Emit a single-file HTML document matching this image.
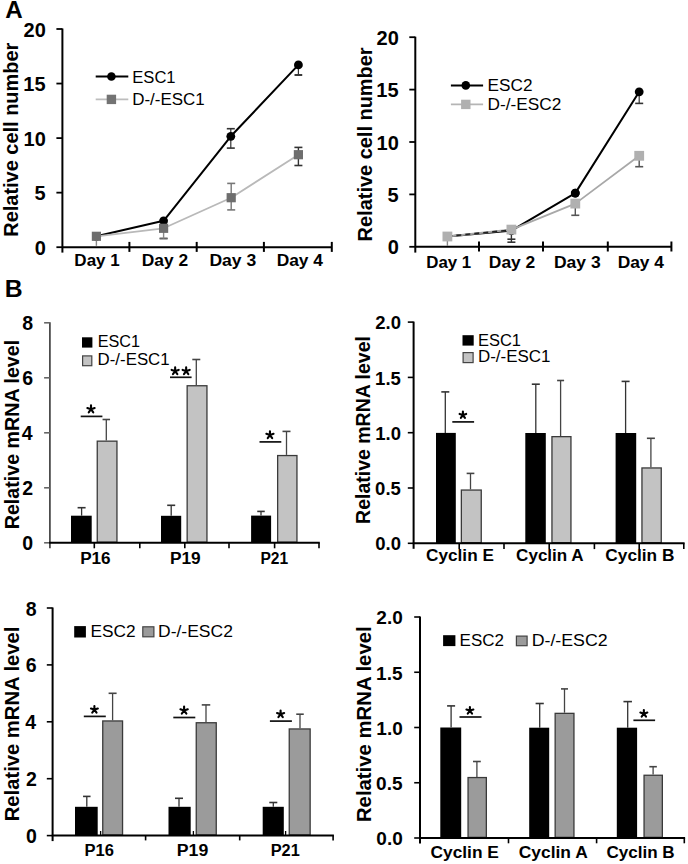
<!DOCTYPE html>
<html><head><meta charset="utf-8"><style>
html,body{margin:0;padding:0;background:#fff;}
body{width:688px;height:864px;overflow:hidden;}
svg{display:block;font-family:"Liberation Sans",sans-serif;}
</style></head><body>
<svg width="688" height="864" viewBox="0 0 688 864">
<rect width="688" height="864" fill="#fff"/>
<text transform="translate(5.20,18.00) scale(1.0075,1)" font-size="24" font-weight="bold" fill="#000">A</text>
<line x1="62.40" y1="28.50" x2="62.40" y2="252.60" stroke="#000" stroke-width="2" stroke-linecap="butt"/>
<line x1="56.40" y1="247.20" x2="62.40" y2="247.20" stroke="#000" stroke-width="1.8" stroke-linecap="butt"/>
<text transform="translate(34.70,254.80) scale(1.0000,1)" font-size="20" font-weight="bold" fill="#000">0</text>
<line x1="56.40" y1="192.65" x2="62.40" y2="192.65" stroke="#000" stroke-width="1.8" stroke-linecap="butt"/>
<text transform="translate(34.45,200.25) scale(1.0000,1)" font-size="20" font-weight="bold" fill="#000">5</text>
<line x1="56.40" y1="138.10" x2="62.40" y2="138.10" stroke="#000" stroke-width="1.8" stroke-linecap="butt"/>
<text transform="translate(23.60,145.70) scale(1.0000,1)" font-size="20" font-weight="bold" fill="#000">10</text>
<line x1="56.40" y1="83.55" x2="62.40" y2="83.55" stroke="#000" stroke-width="1.8" stroke-linecap="butt"/>
<text transform="translate(23.35,91.15) scale(1.0000,1)" font-size="20" font-weight="bold" fill="#000">15</text>
<line x1="56.40" y1="29.00" x2="62.40" y2="29.00" stroke="#000" stroke-width="1.8" stroke-linecap="butt"/>
<text transform="translate(23.60,36.60) scale(1.0000,1)" font-size="20" font-weight="bold" fill="#000">20</text>
<line x1="62.40" y1="247.20" x2="331.80" y2="247.20" stroke="#000" stroke-width="2" stroke-linecap="butt"/>
<line x1="129.40" y1="241.90" x2="129.40" y2="251.90" stroke="#000" stroke-width="2" stroke-linecap="butt"/>
<line x1="196.70" y1="241.90" x2="196.70" y2="251.90" stroke="#000" stroke-width="2" stroke-linecap="butt"/>
<line x1="263.90" y1="241.90" x2="263.90" y2="251.90" stroke="#000" stroke-width="2" stroke-linecap="butt"/>
<line x1="331.80" y1="241.90" x2="331.80" y2="251.90" stroke="#000" stroke-width="2" stroke-linecap="butt"/>
<text transform="translate(74.35,265.80) scale(1.0015,1)" font-size="17" font-weight="bold" fill="#000">Day 1</text>
<text transform="translate(141.73,265.80) scale(1.0225,1)" font-size="17" font-weight="bold" fill="#000">Day 2</text>
<text transform="translate(209.42,265.80) scale(1.0320,1)" font-size="17" font-weight="bold" fill="#000">Day 3</text>
<text transform="translate(276.63,265.80) scale(1.0223,1)" font-size="17" font-weight="bold" fill="#000">Day 4</text>
<text transform="translate(18.40,236.70) rotate(-90) scale(0.9979,1)" font-size="20" font-weight="bold">Relative cell number</text>
<polyline points="96.40,236.30 163.60,220.80 230.80,136.30 298.40,64.90" fill="none" stroke="#000" stroke-width="2.0" stroke-linejoin="round"/>
<line x1="230.80" y1="128.70" x2="230.80" y2="148.10" stroke="#333" stroke-width="1.2" stroke-linecap="butt"/>
<line x1="226.80" y1="128.70" x2="234.80" y2="128.70" stroke="#333" stroke-width="1.6" stroke-linecap="butt"/>
<line x1="226.80" y1="148.10" x2="234.80" y2="148.10" stroke="#333" stroke-width="1.6" stroke-linecap="butt"/>
<line x1="298.40" y1="75.00" x2="298.40" y2="75.00" stroke="#333" stroke-width="1.2" stroke-linecap="butt"/>
<line x1="294.65" y1="75.00" x2="302.15" y2="75.00" stroke="#333" stroke-width="1.6" stroke-linecap="butt"/>
<line x1="294.65" y1="75.00" x2="302.15" y2="75.00" stroke="#333" stroke-width="1.6" stroke-linecap="butt"/>
<line x1="298.40" y1="66.00" x2="298.40" y2="75.00" stroke="#333" stroke-width="1.2" stroke-linecap="butt"/>
<circle cx="96.40" cy="236.30" r="4.4" fill="#000"/>
<circle cx="163.60" cy="220.80" r="4.4" fill="#000"/>
<circle cx="230.80" cy="136.30" r="4.4" fill="#000"/>
<circle cx="298.40" cy="64.90" r="4.4" fill="#000"/>
<polyline points="96.40,236.30 163.60,228.30 231.20,197.70 298.40,154.70" fill="none" stroke="#b9b9b9" stroke-width="1.8" stroke-linejoin="round"/>
<line x1="96.40" y1="240.00" x2="96.40" y2="245.80" stroke="#888" stroke-width="1.4" stroke-linecap="butt"/>
<line x1="163.60" y1="238.50" x2="163.60" y2="238.50" stroke="#666" stroke-width="1.2" stroke-linecap="butt"/>
<line x1="159.60" y1="238.50" x2="167.60" y2="238.50" stroke="#666" stroke-width="1.6" stroke-linecap="butt"/>
<line x1="159.60" y1="238.50" x2="167.60" y2="238.50" stroke="#666" stroke-width="1.6" stroke-linecap="butt"/>
<line x1="163.60" y1="232.00" x2="163.60" y2="238.50" stroke="#888" stroke-width="1.4" stroke-linecap="butt"/>
<line x1="231.20" y1="183.40" x2="231.20" y2="209.90" stroke="#777" stroke-width="1.4" stroke-linecap="butt"/>
<line x1="227.20" y1="183.40" x2="235.20" y2="183.40" stroke="#777" stroke-width="1.6" stroke-linecap="butt"/>
<line x1="227.20" y1="209.90" x2="235.20" y2="209.90" stroke="#777" stroke-width="1.6" stroke-linecap="butt"/>
<line x1="298.40" y1="147.40" x2="298.40" y2="165.50" stroke="#333" stroke-width="1.4" stroke-linecap="butt"/>
<line x1="294.40" y1="147.40" x2="302.40" y2="147.40" stroke="#333" stroke-width="1.6" stroke-linecap="butt"/>
<line x1="294.40" y1="165.50" x2="302.40" y2="165.50" stroke="#333" stroke-width="1.6" stroke-linecap="butt"/>
<rect x="91.80" y="231.70" width="9.2" height="9.2" fill="#6e6e6e"/>
<rect x="159.00" y="223.70" width="9.2" height="9.2" fill="#6e6e6e"/>
<rect x="226.60" y="193.10" width="9.2" height="9.2" fill="#6e6e6e"/>
<rect x="293.80" y="150.10" width="9.2" height="9.2" fill="#6e6e6e"/>
<line x1="95.70" y1="76.50" x2="128.30" y2="76.50" stroke="#000" stroke-width="2" stroke-linecap="butt"/>
<circle cx="111.40" cy="76.50" r="4.3" fill="#000"/>
<text transform="translate(132.23,82.90) scale(0.9772,1)" font-size="17" font-weight="normal" fill="#000">ESC1</text>
<line x1="95.70" y1="99.40" x2="128.30" y2="99.40" stroke="#bdbdbd" stroke-width="1.8" stroke-linecap="butt"/>
<rect x="106.70" y="94.70" width="9.4" height="9.4" fill="#737373"/>
<text transform="translate(132.20,105.40) scale(0.9985,1)" font-size="17" font-weight="normal" fill="#000">D-/-ESC1</text>
<line x1="415.30" y1="36.70" x2="415.30" y2="252.60" stroke="#000" stroke-width="2" stroke-linecap="butt"/>
<line x1="409.30" y1="246.80" x2="415.30" y2="246.80" stroke="#000" stroke-width="1.8" stroke-linecap="butt"/>
<text transform="translate(387.70,254.40) scale(1.0000,1)" font-size="20" font-weight="bold" fill="#000">0</text>
<line x1="409.30" y1="194.40" x2="415.30" y2="194.40" stroke="#000" stroke-width="1.8" stroke-linecap="butt"/>
<text transform="translate(387.45,202.00) scale(1.0000,1)" font-size="20" font-weight="bold" fill="#000">5</text>
<line x1="409.30" y1="142.00" x2="415.30" y2="142.00" stroke="#000" stroke-width="1.8" stroke-linecap="butt"/>
<text transform="translate(376.60,149.60) scale(1.0000,1)" font-size="20" font-weight="bold" fill="#000">10</text>
<line x1="409.30" y1="89.60" x2="415.30" y2="89.60" stroke="#000" stroke-width="1.8" stroke-linecap="butt"/>
<text transform="translate(376.35,97.20) scale(1.0000,1)" font-size="20" font-weight="bold" fill="#000">15</text>
<line x1="409.30" y1="37.20" x2="415.30" y2="37.20" stroke="#000" stroke-width="1.8" stroke-linecap="butt"/>
<text transform="translate(376.60,44.80) scale(1.0000,1)" font-size="20" font-weight="bold" fill="#000">20</text>
<line x1="415.30" y1="246.80" x2="671.40" y2="246.80" stroke="#000" stroke-width="2" stroke-linecap="butt"/>
<line x1="479.00" y1="241.50" x2="479.00" y2="251.50" stroke="#000" stroke-width="2" stroke-linecap="butt"/>
<line x1="543.00" y1="241.50" x2="543.00" y2="251.50" stroke="#000" stroke-width="2" stroke-linecap="butt"/>
<line x1="607.80" y1="241.50" x2="607.80" y2="251.50" stroke="#000" stroke-width="2" stroke-linecap="butt"/>
<line x1="671.40" y1="241.50" x2="671.40" y2="251.50" stroke="#000" stroke-width="2" stroke-linecap="butt"/>
<text transform="translate(426.26,267.50) scale(0.9924,1)" font-size="17" font-weight="bold" fill="#000">Day 1</text>
<text transform="translate(488.82,267.50) scale(1.0248,1)" font-size="17" font-weight="bold" fill="#000">Day 2</text>
<text transform="translate(553.92,267.50) scale(1.0297,1)" font-size="17" font-weight="bold" fill="#000">Day 3</text>
<text transform="translate(617.63,267.50) scale(1.0223,1)" font-size="17" font-weight="bold" fill="#000">Day 4</text>
<text transform="translate(372.40,241.40) rotate(-90) scale(0.9979,1)" font-size="20" font-weight="bold">Relative cell number</text>
<polyline points="447.40,236.50 511.40,230.60 575.30,193.10 639.20,91.80" fill="none" stroke="#000" stroke-width="2.0" stroke-linejoin="round"/>
<line x1="639.20" y1="93.00" x2="639.20" y2="103.40" stroke="#333" stroke-width="1.2" stroke-linecap="butt"/>
<line x1="635.20" y1="103.40" x2="643.20" y2="103.40" stroke="#333" stroke-width="1.6" stroke-linecap="butt"/>
<circle cx="447.40" cy="236.50" r="4.4" fill="#000"/>
<circle cx="511.40" cy="230.60" r="4.4" fill="#000"/>
<circle cx="575.30" cy="193.10" r="4.4" fill="#000"/>
<circle cx="639.20" cy="91.80" r="4.4" fill="#000"/>
<polyline points="447.40,236.50 511.40,229.60 575.30,203.60 639.20,155.80" fill="none" stroke="#a8a8a8" stroke-width="1.8" stroke-linejoin="round"/>
<line x1="447.40" y1="240.00" x2="447.40" y2="246.00" stroke="#888" stroke-width="1.4" stroke-linecap="butt"/>
<line x1="511.40" y1="233.00" x2="511.40" y2="242.20" stroke="#333" stroke-width="1.4" stroke-linecap="butt"/>
<line x1="507.40" y1="239.20" x2="515.40" y2="239.20" stroke="#333" stroke-width="1.6" stroke-linecap="butt"/>
<line x1="507.40" y1="242.20" x2="515.40" y2="242.20" stroke="#333" stroke-width="1.6" stroke-linecap="butt"/>
<line x1="575.30" y1="207.00" x2="575.30" y2="215.30" stroke="#555" stroke-width="1.4" stroke-linecap="butt"/>
<line x1="571.30" y1="215.30" x2="579.30" y2="215.30" stroke="#555" stroke-width="1.6" stroke-linecap="butt"/>
<line x1="639.20" y1="160.00" x2="639.20" y2="166.70" stroke="#555" stroke-width="1.4" stroke-linecap="butt"/>
<line x1="635.20" y1="166.70" x2="643.20" y2="166.70" stroke="#555" stroke-width="1.6" stroke-linecap="butt"/>
<line x1="447.4" y1="236.3" x2="511.4" y2="230.0" stroke="#222" stroke-width="1.6" stroke-dasharray="5 4"/>
<rect x="442.50" y="231.60" width="9.8" height="9.8" fill="#b0b0b0"/>
<rect x="506.50" y="224.70" width="9.8" height="9.8" fill="#b0b0b0"/>
<rect x="570.40" y="198.70" width="9.8" height="9.8" fill="#b0b0b0"/>
<rect x="634.30" y="150.90" width="9.8" height="9.8" fill="#b0b0b0"/>
<circle cx="575.30" cy="193.10" r="4.4" fill="#000"/>
<line x1="450.90" y1="85.40" x2="483.10" y2="85.40" stroke="#000" stroke-width="2" stroke-linecap="butt"/>
<circle cx="465.80" cy="85.40" r="4.3" fill="#000"/>
<text transform="translate(487.58,91.40) scale(1.0115,1)" font-size="17" font-weight="normal" fill="#000">ESC2</text>
<line x1="450.90" y1="104.40" x2="483.10" y2="104.40" stroke="#b5b5b5" stroke-width="1.8" stroke-linecap="butt"/>
<rect x="461.10" y="99.70" width="9.4" height="9.4" fill="#b0b0b0"/>
<text transform="translate(487.58,110.30) scale(1.0147,1)" font-size="17" font-weight="normal" fill="#000">D-/-ESC2</text>
<text transform="translate(4.73,297.20) scale(1.0314,1)" font-size="24" font-weight="bold" fill="#000">B</text>
<line x1="49.90" y1="322.30" x2="49.90" y2="548.30" stroke="#444" stroke-width="1.7" stroke-linecap="butt"/>
<line x1="44.10" y1="542.80" x2="49.90" y2="542.80" stroke="#666" stroke-width="1.6" stroke-linecap="butt"/>
<text transform="translate(22.36,550.31) scale(1.0000,1)" font-size="19.5" font-weight="bold" fill="#000">0</text>
<line x1="44.10" y1="487.80" x2="49.90" y2="487.80" stroke="#666" stroke-width="1.6" stroke-linecap="butt"/>
<text transform="translate(22.36,495.31) scale(1.0000,1)" font-size="19.5" font-weight="bold" fill="#000">2</text>
<line x1="44.10" y1="432.80" x2="49.90" y2="432.80" stroke="#666" stroke-width="1.6" stroke-linecap="butt"/>
<text transform="translate(21.67,440.31) scale(1.0000,1)" font-size="19.5" font-weight="bold" fill="#000">4</text>
<line x1="44.10" y1="377.80" x2="49.90" y2="377.80" stroke="#666" stroke-width="1.6" stroke-linecap="butt"/>
<text transform="translate(22.26,385.31) scale(1.0000,1)" font-size="19.5" font-weight="bold" fill="#000">6</text>
<line x1="44.10" y1="322.80" x2="49.90" y2="322.80" stroke="#666" stroke-width="1.6" stroke-linecap="butt"/>
<text transform="translate(22.16,330.31) scale(1.0000,1)" font-size="19.5" font-weight="bold" fill="#000">8</text>
<rect x="71.00" y="515.70" width="20.70" height="27.10" fill="#000"/>
<line x1="81.60" y1="507.70" x2="81.60" y2="515.70" stroke="#333" stroke-width="1.3" stroke-linecap="butt"/>
<line x1="77.60" y1="507.70" x2="85.60" y2="507.70" stroke="#333" stroke-width="1.6" stroke-linecap="butt"/>
<rect x="97.25" y="441.15" width="19.70" height="101.00" fill="#c3c3c3" stroke="#3a3a3a" stroke-width="1.3"/>
<line x1="106.30" y1="419.50" x2="106.30" y2="440.50" stroke="#444" stroke-width="1.3" stroke-linecap="butt"/>
<line x1="102.55" y1="419.50" x2="110.05" y2="419.50" stroke="#444" stroke-width="1.6" stroke-linecap="butt"/>
<rect x="161.00" y="515.80" width="20.20" height="27.00" fill="#000"/>
<line x1="171.20" y1="505.30" x2="171.20" y2="515.80" stroke="#333" stroke-width="1.3" stroke-linecap="butt"/>
<line x1="167.20" y1="505.30" x2="175.20" y2="505.30" stroke="#333" stroke-width="1.6" stroke-linecap="butt"/>
<rect x="187.15" y="385.75" width="19.80" height="156.40" fill="#c3c3c3" stroke="#3a3a3a" stroke-width="1.3"/>
<line x1="196.30" y1="359.50" x2="196.30" y2="385.10" stroke="#444" stroke-width="1.3" stroke-linecap="butt"/>
<line x1="192.30" y1="359.50" x2="200.30" y2="359.50" stroke="#444" stroke-width="1.6" stroke-linecap="butt"/>
<rect x="251.10" y="515.60" width="20.00" height="27.20" fill="#000"/>
<line x1="261.00" y1="511.40" x2="261.00" y2="515.60" stroke="#333" stroke-width="1.3" stroke-linecap="butt"/>
<line x1="257.25" y1="511.40" x2="264.75" y2="511.40" stroke="#333" stroke-width="1.6" stroke-linecap="butt"/>
<rect x="277.65" y="455.55" width="19.30" height="86.60" fill="#c3c3c3" stroke="#3a3a3a" stroke-width="1.3"/>
<line x1="286.50" y1="431.40" x2="286.50" y2="454.90" stroke="#444" stroke-width="1.3" stroke-linecap="butt"/>
<line x1="282.50" y1="431.40" x2="290.50" y2="431.40" stroke="#444" stroke-width="1.6" stroke-linecap="butt"/>
<line x1="49.10" y1="542.80" x2="319.80" y2="542.80" stroke="#000" stroke-width="2" stroke-linecap="butt"/>
<line x1="94.30" y1="542.80" x2="94.30" y2="548.30" stroke="#000" stroke-width="1.6" stroke-linecap="butt"/>
<line x1="139.80" y1="542.80" x2="139.80" y2="548.30" stroke="#000" stroke-width="1.6" stroke-linecap="butt"/>
<line x1="184.80" y1="542.80" x2="184.80" y2="548.30" stroke="#000" stroke-width="1.6" stroke-linecap="butt"/>
<line x1="229.00" y1="542.80" x2="229.00" y2="548.30" stroke="#000" stroke-width="1.6" stroke-linecap="butt"/>
<line x1="274.60" y1="542.80" x2="274.60" y2="548.30" stroke="#000" stroke-width="1.6" stroke-linecap="butt"/>
<line x1="319.00" y1="542.80" x2="319.00" y2="548.30" stroke="#000" stroke-width="1.6" stroke-linecap="butt"/>
<line x1="80.70" y1="416.40" x2="102.40" y2="416.40" stroke="#111" stroke-width="1.7" stroke-linecap="butt"/>
<path d="M91.00,409.20L91.00,405.35M91.00,409.20L94.66,408.01M91.00,409.20L93.26,412.32M91.00,409.20L88.74,412.32M91.00,409.20L87.34,408.01" stroke="#000" stroke-width="2.1" stroke-linecap="round" fill="none"/>
<line x1="170.00" y1="377.30" x2="191.60" y2="377.30" stroke="#111" stroke-width="1.7" stroke-linecap="butt"/>
<path d="M175.15,371.09L175.15,367.35M175.15,371.09L178.71,369.93M175.15,371.09L177.35,374.11M175.15,371.09L172.95,374.11M175.15,371.09L171.59,369.93" stroke="#000" stroke-width="2.1" stroke-linecap="round" fill="none"/>
<path d="M186.15,371.09L186.15,367.35M186.15,371.09L189.71,369.93M186.15,371.09L188.35,374.11M186.15,371.09L183.95,374.11M186.15,371.09L182.59,369.93" stroke="#000" stroke-width="2.1" stroke-linecap="round" fill="none"/>
<line x1="259.50" y1="441.90" x2="281.30" y2="441.90" stroke="#111" stroke-width="1.7" stroke-linecap="butt"/>
<path d="M269.95,435.04L269.95,431.25M269.95,435.04L273.56,433.87M269.95,435.04L272.18,438.11M269.95,435.04L267.72,438.11M269.95,435.04L266.34,433.87" stroke="#000" stroke-width="2.1" stroke-linecap="round" fill="none"/>
<rect x="82.00" y="337.30" width="10.40" height="10.30" fill="#000"/>
<text transform="translate(97.66,347.30) scale(0.9848,1)" font-size="16.5" font-weight="normal" fill="#000">ESC1</text>
<rect x="82.60" y="355.90" width="9.20" height="9.80" fill="#c3c3c3" stroke="#444" stroke-width="1.2"/>
<text transform="translate(97.61,364.90) scale(1.0214,1)" font-size="16.5" font-weight="normal" fill="#000">D-/-ESC1</text>
<text transform="translate(80.14,563.50) scale(1.0079,1)" font-size="17" font-weight="bold" fill="#000">P16</text>
<text transform="translate(169.93,563.50) scale(1.0184,1)" font-size="17" font-weight="bold" fill="#000">P19</text>
<text transform="translate(260.44,563.50) scale(0.9195,1)" font-size="17" font-weight="bold" fill="#000">P21</text>
<text transform="translate(19.00,529.33) rotate(-90) scale(0.9845,1)" font-size="20" font-weight="bold">Relative mRNA level</text>
<line x1="413.60" y1="321.60" x2="413.60" y2="548.80" stroke="#000" stroke-width="2.0" stroke-linecap="butt"/>
<line x1="407.80" y1="543.30" x2="413.60" y2="543.30" stroke="#000" stroke-width="1.6" stroke-linecap="butt"/>
<text transform="translate(375.32,550.46) scale(1.0000,1)" font-size="18.5" font-weight="bold" fill="#000">0.0</text>
<line x1="407.80" y1="488.00" x2="413.60" y2="488.00" stroke="#000" stroke-width="1.6" stroke-linecap="butt"/>
<text transform="translate(375.09,495.16) scale(1.0000,1)" font-size="18.5" font-weight="bold" fill="#000">0.5</text>
<line x1="407.80" y1="432.70" x2="413.60" y2="432.70" stroke="#000" stroke-width="1.6" stroke-linecap="butt"/>
<text transform="translate(375.32,439.86) scale(1.0000,1)" font-size="18.5" font-weight="bold" fill="#000">1.0</text>
<line x1="407.80" y1="377.40" x2="413.60" y2="377.40" stroke="#000" stroke-width="1.6" stroke-linecap="butt"/>
<text transform="translate(375.09,384.56) scale(1.0000,1)" font-size="18.5" font-weight="bold" fill="#000">1.5</text>
<line x1="407.80" y1="322.10" x2="413.60" y2="322.10" stroke="#000" stroke-width="1.6" stroke-linecap="butt"/>
<text transform="translate(375.32,329.26) scale(1.0000,1)" font-size="18.5" font-weight="bold" fill="#000">2.0</text>
<rect x="436.00" y="432.90" width="19.80" height="110.40" fill="#000"/>
<line x1="445.30" y1="391.90" x2="445.30" y2="432.90" stroke="#333" stroke-width="1.3" stroke-linecap="butt"/>
<line x1="441.30" y1="391.90" x2="449.30" y2="391.90" stroke="#333" stroke-width="1.6" stroke-linecap="butt"/>
<rect x="461.35" y="490.05" width="19.90" height="52.60" fill="#c3c3c3" stroke="#3a3a3a" stroke-width="1.3"/>
<line x1="470.50" y1="473.40" x2="470.50" y2="489.40" stroke="#444" stroke-width="1.3" stroke-linecap="butt"/>
<line x1="466.65" y1="473.40" x2="474.35" y2="473.40" stroke="#444" stroke-width="1.6" stroke-linecap="butt"/>
<rect x="525.30" y="433.00" width="20.50" height="110.30" fill="#000"/>
<line x1="535.80" y1="384.20" x2="535.80" y2="433.00" stroke="#333" stroke-width="1.3" stroke-linecap="butt"/>
<line x1="531.80" y1="384.20" x2="539.80" y2="384.20" stroke="#333" stroke-width="1.6" stroke-linecap="butt"/>
<rect x="551.95" y="436.65" width="19.00" height="106.00" fill="#c3c3c3" stroke="#3a3a3a" stroke-width="1.3"/>
<line x1="560.60" y1="380.50" x2="560.60" y2="436.00" stroke="#444" stroke-width="1.3" stroke-linecap="butt"/>
<line x1="557.10" y1="380.50" x2="564.10" y2="380.50" stroke="#444" stroke-width="1.6" stroke-linecap="butt"/>
<rect x="615.60" y="433.00" width="20.60" height="110.30" fill="#000"/>
<line x1="625.60" y1="381.40" x2="625.60" y2="433.00" stroke="#333" stroke-width="1.3" stroke-linecap="butt"/>
<line x1="621.60" y1="381.40" x2="629.60" y2="381.40" stroke="#333" stroke-width="1.6" stroke-linecap="butt"/>
<rect x="641.95" y="467.95" width="19.30" height="74.70" fill="#c3c3c3" stroke="#3a3a3a" stroke-width="1.3"/>
<line x1="650.90" y1="438.30" x2="650.90" y2="467.30" stroke="#444" stroke-width="1.3" stroke-linecap="butt"/>
<line x1="646.90" y1="438.30" x2="654.90" y2="438.30" stroke="#444" stroke-width="1.6" stroke-linecap="butt"/>
<line x1="412.80" y1="543.30" x2="684.60" y2="543.30" stroke="#000" stroke-width="2" stroke-linecap="butt"/>
<line x1="459.20" y1="543.30" x2="459.20" y2="549.10" stroke="#000" stroke-width="1.6" stroke-linecap="butt"/>
<line x1="504.00" y1="543.30" x2="504.00" y2="549.10" stroke="#000" stroke-width="1.6" stroke-linecap="butt"/>
<line x1="549.20" y1="543.30" x2="549.20" y2="549.10" stroke="#000" stroke-width="1.6" stroke-linecap="butt"/>
<line x1="594.40" y1="543.30" x2="594.40" y2="549.10" stroke="#000" stroke-width="1.6" stroke-linecap="butt"/>
<line x1="639.20" y1="543.30" x2="639.20" y2="549.10" stroke="#000" stroke-width="1.6" stroke-linecap="butt"/>
<line x1="683.80" y1="543.30" x2="683.80" y2="549.10" stroke="#000" stroke-width="1.6" stroke-linecap="butt"/>
<line x1="452.30" y1="421.90" x2="474.10" y2="421.90" stroke="#111" stroke-width="1.7" stroke-linecap="butt"/>
<path d="M462.90,415.02L462.90,411.55M462.90,415.02L466.20,413.95M462.90,415.02L464.94,417.83M462.90,415.02L460.86,417.83M462.90,415.02L459.60,413.95" stroke="#000" stroke-width="2.1" stroke-linecap="round" fill="none"/>
<rect x="462.50" y="335.20" width="11.20" height="10.40" fill="#000"/>
<text transform="translate(477.94,345.60) scale(0.9971,1)" font-size="16.5" font-weight="normal" fill="#000">ESC1</text>
<rect x="463.10" y="352.60" width="10.00" height="10.00" fill="#c3c3c3" stroke="#444" stroke-width="1.2"/>
<text transform="translate(477.90,361.90) scale(1.0287,1)" font-size="16.5" font-weight="normal" fill="#000">D-/-ESC1</text>
<text transform="translate(426.11,560.80) scale(1.0099,1)" font-size="17" font-weight="bold" fill="#000">Cyclin E</text>
<text transform="translate(516.12,560.80) scale(1.0022,1)" font-size="17" font-weight="bold" fill="#000">Cyclin A</text>
<text transform="translate(605.31,560.80) scale(1.0166,1)" font-size="17" font-weight="bold" fill="#000">Cyclin B</text>
<text transform="translate(370.20,523.92) rotate(-90) scale(0.9750,1)" font-size="20" font-weight="bold">Relative mRNA level</text>
<line x1="52.60" y1="607.50" x2="52.60" y2="841.10" stroke="#000" stroke-width="2.0" stroke-linecap="butt"/>
<line x1="46.80" y1="835.60" x2="52.60" y2="835.60" stroke="#000" stroke-width="1.6" stroke-linecap="butt"/>
<text transform="translate(25.96,843.11) scale(1.0000,1)" font-size="19.5" font-weight="bold" fill="#000">0</text>
<line x1="46.80" y1="778.70" x2="52.60" y2="778.70" stroke="#000" stroke-width="1.6" stroke-linecap="butt"/>
<text transform="translate(25.96,786.21) scale(1.0000,1)" font-size="19.5" font-weight="bold" fill="#000">2</text>
<line x1="46.80" y1="721.80" x2="52.60" y2="721.80" stroke="#000" stroke-width="1.6" stroke-linecap="butt"/>
<text transform="translate(25.27,729.31) scale(1.0000,1)" font-size="19.5" font-weight="bold" fill="#000">4</text>
<line x1="46.80" y1="664.90" x2="52.60" y2="664.90" stroke="#000" stroke-width="1.6" stroke-linecap="butt"/>
<text transform="translate(25.86,672.41) scale(1.0000,1)" font-size="19.5" font-weight="bold" fill="#000">6</text>
<line x1="46.80" y1="608.00" x2="52.60" y2="608.00" stroke="#000" stroke-width="1.6" stroke-linecap="butt"/>
<text transform="translate(25.76,615.51) scale(1.0000,1)" font-size="19.5" font-weight="bold" fill="#000">8</text>
<rect x="75.00" y="806.80" width="22.70" height="28.80" fill="#000"/>
<line x1="86.80" y1="796.40" x2="86.80" y2="806.80" stroke="#333" stroke-width="1.3" stroke-linecap="butt"/>
<line x1="83.05" y1="796.40" x2="90.55" y2="796.40" stroke="#333" stroke-width="1.6" stroke-linecap="butt"/>
<rect x="102.75" y="720.95" width="19.80" height="114.00" fill="#9b9b9b" stroke="#3a3a3a" stroke-width="1.3"/>
<line x1="112.60" y1="693.30" x2="112.60" y2="720.30" stroke="#444" stroke-width="1.3" stroke-linecap="butt"/>
<line x1="108.60" y1="693.30" x2="116.60" y2="693.30" stroke="#444" stroke-width="1.6" stroke-linecap="butt"/>
<rect x="168.50" y="806.80" width="22.20" height="28.80" fill="#000"/>
<line x1="179.00" y1="798.30" x2="179.00" y2="806.80" stroke="#333" stroke-width="1.3" stroke-linecap="butt"/>
<line x1="175.00" y1="798.30" x2="183.00" y2="798.30" stroke="#333" stroke-width="1.6" stroke-linecap="butt"/>
<rect x="196.25" y="722.75" width="20.00" height="112.20" fill="#9b9b9b" stroke="#3a3a3a" stroke-width="1.3"/>
<line x1="206.00" y1="704.90" x2="206.00" y2="722.10" stroke="#444" stroke-width="1.3" stroke-linecap="butt"/>
<line x1="201.75" y1="704.90" x2="210.25" y2="704.90" stroke="#444" stroke-width="1.6" stroke-linecap="butt"/>
<rect x="262.70" y="806.80" width="21.10" height="28.80" fill="#000"/>
<line x1="273.30" y1="802.50" x2="273.30" y2="806.80" stroke="#333" stroke-width="1.3" stroke-linecap="butt"/>
<line x1="269.30" y1="802.50" x2="277.30" y2="802.50" stroke="#333" stroke-width="1.6" stroke-linecap="butt"/>
<rect x="289.25" y="728.95" width="20.90" height="106.00" fill="#9b9b9b" stroke="#3a3a3a" stroke-width="1.3"/>
<line x1="300.00" y1="714.20" x2="300.00" y2="728.30" stroke="#444" stroke-width="1.3" stroke-linecap="butt"/>
<line x1="296.25" y1="714.20" x2="303.75" y2="714.20" stroke="#444" stroke-width="1.6" stroke-linecap="butt"/>
<line x1="51.80" y1="835.60" x2="333.90" y2="835.60" stroke="#000" stroke-width="2" stroke-linecap="butt"/>
<line x1="145.60" y1="835.60" x2="145.60" y2="840.40" stroke="#000" stroke-width="1.6" stroke-linecap="butt"/>
<line x1="239.70" y1="835.60" x2="239.70" y2="840.40" stroke="#000" stroke-width="1.6" stroke-linecap="butt"/>
<line x1="333.10" y1="835.60" x2="333.10" y2="840.40" stroke="#000" stroke-width="1.6" stroke-linecap="butt"/>
<line x1="83.80" y1="716.40" x2="105.80" y2="716.40" stroke="#111" stroke-width="1.7" stroke-linecap="butt"/>
<path d="M94.40,709.59L94.40,705.95M94.40,709.59L97.86,708.46M94.40,709.59L96.54,712.53M94.40,709.59L92.26,712.53M94.40,709.59L90.94,708.46" stroke="#000" stroke-width="2.1" stroke-linecap="round" fill="none"/>
<line x1="173.30" y1="717.50" x2="195.30" y2="717.50" stroke="#111" stroke-width="1.7" stroke-linecap="butt"/>
<path d="M184.10,710.43L184.10,706.55M184.10,710.43L187.79,709.23M184.10,710.43L186.38,713.57M184.10,710.43L181.82,713.57M184.10,710.43L180.41,709.23" stroke="#000" stroke-width="2.1" stroke-linecap="round" fill="none"/>
<line x1="269.90" y1="721.10" x2="291.90" y2="721.10" stroke="#111" stroke-width="1.7" stroke-linecap="butt"/>
<path d="M280.60,714.19L280.60,710.45M280.60,714.19L284.16,713.04M280.60,714.19L282.80,717.22M280.60,714.19L278.40,717.22M280.60,714.19L277.04,713.04" stroke="#000" stroke-width="2.1" stroke-linecap="round" fill="none"/>
<rect x="74.20" y="626.10" width="11.70" height="11.40" fill="#000"/>
<text transform="translate(90.57,637.20) scale(1.0470,1)" font-size="16.5" font-weight="normal" fill="#000">ESC2</text>
<rect x="142.80" y="626.80" width="11.10" height="10.00" fill="#9b9b9b" stroke="#444" stroke-width="1.2"/>
<text transform="translate(158.06,637.00) scale(1.0601,1)" font-size="16.5" font-weight="normal" fill="#000">D-/-ESC2</text>
<text transform="translate(84.58,855.90) scale(0.9728,1)" font-size="17" font-weight="bold" fill="#000">P16</text>
<text transform="translate(176.70,855.90) scale(1.0430,1)" font-size="17" font-weight="bold" fill="#000">P19</text>
<text transform="translate(270.70,855.90) scale(0.9615,1)" font-size="17" font-weight="bold" fill="#000">P21</text>
<text transform="translate(18.60,821.26) rotate(-90) scale(1.0108,1)" font-size="20" font-weight="bold">Relative mRNA level</text>
<line x1="100.60" y1="831.00" x2="100.60" y2="835.00" stroke="#000" stroke-width="1.3" stroke-linecap="butt"/>
<line x1="193.40" y1="831.00" x2="193.40" y2="835.00" stroke="#000" stroke-width="1.3" stroke-linecap="butt"/>
<line x1="285.60" y1="831.00" x2="285.60" y2="835.00" stroke="#000" stroke-width="1.3" stroke-linecap="butt"/>
<line x1="420.00" y1="616.50" x2="420.00" y2="843.50" stroke="#000" stroke-width="2.0" stroke-linecap="butt"/>
<line x1="414.20" y1="838.00" x2="420.00" y2="838.00" stroke="#000" stroke-width="1.6" stroke-linecap="butt"/>
<text transform="translate(376.35,845.33) scale(1.0000,1)" font-size="19" font-weight="bold" fill="#000">0.0</text>
<line x1="414.20" y1="782.75" x2="420.00" y2="782.75" stroke="#000" stroke-width="1.6" stroke-linecap="butt"/>
<text transform="translate(376.11,790.08) scale(1.0000,1)" font-size="19" font-weight="bold" fill="#000">0.5</text>
<line x1="414.20" y1="727.50" x2="420.00" y2="727.50" stroke="#000" stroke-width="1.6" stroke-linecap="butt"/>
<text transform="translate(376.35,734.83) scale(1.0000,1)" font-size="19" font-weight="bold" fill="#000">1.0</text>
<line x1="414.20" y1="672.25" x2="420.00" y2="672.25" stroke="#000" stroke-width="1.6" stroke-linecap="butt"/>
<text transform="translate(376.11,679.58) scale(1.0000,1)" font-size="19" font-weight="bold" fill="#000">1.5</text>
<line x1="414.20" y1="617.00" x2="420.00" y2="617.00" stroke="#000" stroke-width="1.6" stroke-linecap="butt"/>
<text transform="translate(376.35,624.33) scale(1.0000,1)" font-size="19" font-weight="bold" fill="#000">2.0</text>
<rect x="440.30" y="727.50" width="20.90" height="110.50" fill="#000"/>
<line x1="451.10" y1="705.90" x2="451.10" y2="727.50" stroke="#333" stroke-width="1.3" stroke-linecap="butt"/>
<line x1="447.10" y1="705.90" x2="455.10" y2="705.90" stroke="#333" stroke-width="1.6" stroke-linecap="butt"/>
<rect x="468.05" y="777.55" width="18.30" height="59.80" fill="#9b9b9b" stroke="#3a3a3a" stroke-width="1.3"/>
<line x1="476.90" y1="761.50" x2="476.90" y2="776.90" stroke="#444" stroke-width="1.3" stroke-linecap="butt"/>
<line x1="473.00" y1="761.50" x2="480.80" y2="761.50" stroke="#444" stroke-width="1.6" stroke-linecap="butt"/>
<rect x="529.20" y="727.70" width="20.00" height="110.30" fill="#000"/>
<line x1="539.70" y1="703.50" x2="539.70" y2="727.70" stroke="#333" stroke-width="1.3" stroke-linecap="butt"/>
<line x1="535.60" y1="703.50" x2="543.80" y2="703.50" stroke="#333" stroke-width="1.6" stroke-linecap="butt"/>
<rect x="555.15" y="713.35" width="18.80" height="124.00" fill="#9b9b9b" stroke="#3a3a3a" stroke-width="1.3"/>
<line x1="564.50" y1="688.90" x2="564.50" y2="712.70" stroke="#444" stroke-width="1.3" stroke-linecap="butt"/>
<line x1="561.00" y1="688.90" x2="568.00" y2="688.90" stroke="#444" stroke-width="1.6" stroke-linecap="butt"/>
<rect x="616.80" y="727.70" width="20.30" height="110.30" fill="#000"/>
<line x1="627.70" y1="701.60" x2="627.70" y2="727.70" stroke="#333" stroke-width="1.3" stroke-linecap="butt"/>
<line x1="623.45" y1="701.60" x2="631.95" y2="701.60" stroke="#333" stroke-width="1.6" stroke-linecap="butt"/>
<rect x="644.05" y="775.25" width="18.30" height="62.10" fill="#9b9b9b" stroke="#3a3a3a" stroke-width="1.3"/>
<line x1="653.10" y1="766.70" x2="653.10" y2="774.60" stroke="#444" stroke-width="1.3" stroke-linecap="butt"/>
<line x1="649.35" y1="766.70" x2="656.85" y2="766.70" stroke="#444" stroke-width="1.6" stroke-linecap="butt"/>
<line x1="419.20" y1="838.00" x2="685.10" y2="838.00" stroke="#000" stroke-width="2" stroke-linecap="butt"/>
<line x1="508.50" y1="838.00" x2="508.50" y2="843.30" stroke="#000" stroke-width="1.6" stroke-linecap="butt"/>
<line x1="596.60" y1="838.00" x2="596.60" y2="843.30" stroke="#000" stroke-width="1.6" stroke-linecap="butt"/>
<line x1="684.30" y1="838.00" x2="684.30" y2="843.30" stroke="#000" stroke-width="1.6" stroke-linecap="butt"/>
<line x1="459.50" y1="717.00" x2="481.50" y2="717.00" stroke="#111" stroke-width="1.7" stroke-linecap="butt"/>
<path d="M469.90,710.61L469.90,706.95M469.90,710.61L473.38,709.48M469.90,710.61L472.05,713.57M469.90,710.61L467.75,713.57M469.90,710.61L466.42,709.48" stroke="#000" stroke-width="2.1" stroke-linecap="round" fill="none"/>
<line x1="633.40" y1="720.30" x2="655.10" y2="720.30" stroke="#111" stroke-width="1.7" stroke-linecap="butt"/>
<path d="M643.85,713.64L643.85,709.95M643.85,713.64L647.36,712.50M643.85,713.64L646.02,716.62M643.85,713.64L641.68,716.62M643.85,713.64L640.34,712.50" stroke="#000" stroke-width="2.1" stroke-linecap="round" fill="none"/>
<rect x="443.10" y="635.20" width="12.30" height="10.90" fill="#000"/>
<text transform="translate(459.59,646.10) scale(1.0323,1)" font-size="16.5" font-weight="normal" fill="#000">ESC2</text>
<rect x="516.40" y="636.10" width="10.70" height="9.60" fill="#9b9b9b" stroke="#444" stroke-width="1.2"/>
<text transform="translate(531.63,645.60) scale(1.0776,1)" font-size="16.5" font-weight="normal" fill="#000">D-/-ESC2</text>
<text transform="translate(430.51,857.50) scale(1.0191,1)" font-size="17" font-weight="bold" fill="#000">Cyclin E</text>
<text transform="translate(518.80,857.50) scale(1.0233,1)" font-size="17" font-weight="bold" fill="#000">Cyclin A</text>
<text transform="translate(606.42,857.50) scale(1.0045,1)" font-size="17" font-weight="bold" fill="#000">Cyclin B</text>
<text transform="translate(371.40,822.07) rotate(-90) scale(1.0161,1)" font-size="20" font-weight="bold">Relative mRNA level</text>
</svg>
</body></html>
